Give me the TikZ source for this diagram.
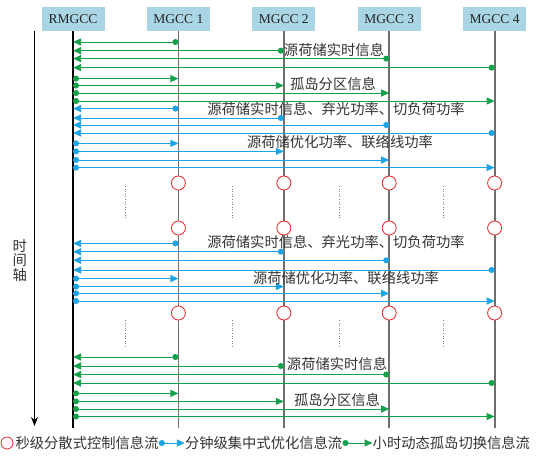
\documentclass[tikz,border=0pt]{standalone}
\usepackage{fontspec}
\setmainfont{Liberation Serif}
\newfontfamily\cjk{Noto Sans CJK SC}
\usetikzlibrary{arrows.meta,positioning}
\definecolor{headfill}{HTML}{A9D5E5}
\definecolor{lifegray}{HTML}{6F6F6F}
\definecolor{hourgreen}{HTML}{13A14B}
\definecolor{minblue}{HTML}{1CA4E4}
\definecolor{secred}{HTML}{E8262C}

\begin{document}
\begin{tikzpicture}[x=1pt,y=-1pt,
  head/.style={fill=headfill, minimum width=63pt, minimum height=24pt, inner sep=0pt, font=\fontsize{13.5}{16}\selectfont, text=black!85},
  life/.style={lifegray, line width=1.8pt},
  ring/.style={circle, draw=secred, fill=white, line width=0.8pt, minimum size=14pt, inner sep=0pt},
  msg/.style={line width=1pt, {Circle[length=6pt]}-{Triangle[length=8pt,width=7pt]}},
  hourly/.style={msg, hourgreen},
  minute/.style={msg, minblue},
  lbl/.style={font=\cjk\fontsize{14.3}{14.6}\selectfont, inner sep=0pt, text=black!80},
  vdots/.style={gray, dotted, line width=0.6pt},
  timeax/.style={-{Stealth[length=9pt,width=7pt]}, line width=0.9pt}
]
  \useasboundingbox (0,0) rectangle (542,467);

  % controllers
  \node[head] (rm) at (73,19) {RMGCC};
  \node[head, right=42pt of rm] (m1) {MGCC 1};
  \node[head, right=42pt of m1] (m2) {MGCC 2};
  \node[head, right=42pt of m2] (m3) {MGCC 3};
  \node[head, right=42pt of m3] (m4) {MGCC 4};

  \coordinate (bot) at (0,428);
  \coordinate (ttop) at (34.5,31);
  \coordinate (tbot) at (34.5,426);

  % time axis
  \draw[timeax] (ttop) -- (tbot);
  \node[lbl, align=center] (tlabel) at (19.7,260.5) {时\\间\\轴};

  % lifelines
  \draw[line width=1.3pt] (rm.south) -- (rm.south |- bot);
  \foreach \i in {1,...,4}
    \draw[life] (m\i.south) -- (m\i.south |- bot);

  % message rows
  \foreach \y [count=\k] in {42,50.7,58.6,67.6,78.6,85.5,93,101,
      108.6,118,125,133,143.4,151.4,160,167.6,
      243.4,251.7,260.3,270,278.6,286.6,293.4,301,
      357,366,374.5,383,393.4,401.4,409,416.5}
    \coordinate (r\k) at (0,\y);

  \foreach \g/\sty in {0/hourly,1/minute,2/minute,3/hourly}
    \foreach \i in {1,...,4} {
      \pgfmathtruncatemacro{\up}{8*\g+\i}
      \pgfmathtruncatemacro{\dn}{8*\g+4+\i}
      \draw[\sty] (m\i |- r\up) -- (rm |- r\up);
      \draw[\sty] (rm |- r\dn) -- (m\i |- r\dn);
    }

  % second-level control
  \coordinate (c1) at (0,183);
  \coordinate (c2) at (0,228);
  \coordinate (c3) at (0,313);
  \foreach \i in {1,...,4}
    \foreach \c in {c1,c2,c3}
      \node[ring] (o\i\c) at (m\i |- \c) {};
  \foreach \x in {125,232,339,443} {
    \draw[vdots] (\x,186) -- (\x,219);
    \draw[vdots] (\x,320) -- (\x,347);
  }

  % labels
  \node[lbl] (info1) at (334,50) {源荷储实时信息};
  \node[lbl] (part1) at (333,84.5) {孤岛分区信息};
  \node[lbl] (info2) at (336,108.6) {源荷储实时信息、弃光功率、切负荷功率};
  \node[lbl] (opt2) at (340,142.4) {源荷储优化功率、联络线功率};
  \node[lbl] (info3) at (336,242.4) {源荷储实时信息、弃光功率、切负荷功率};
  \node[lbl] (opt3) at (346,278) {源荷储优化功率、联络线功率};
  \node[lbl] (info4) at (337,364) {源荷储实时信息};
  \node[lbl] (part4) at (337,400) {孤岛分区信息};

  % legend
  \node[ring, minimum size=12pt] (lg0) at (7,443) {};
  \node[lbl, right=2pt of lg0] (lt1) {秒级分散式控制信息流};
  \node[lbl, right=26pt of lt1] (lt2) {分钟级集中式优化信息流};
  \node[lbl, right=30pt of lt2] (lt3) {小时动态孤岛切换信息流};
  \draw[minute] (lt1) -- (lt2);
  \draw[hourly] (lt2) -- (lt3);
\end{tikzpicture}
\end{document}
